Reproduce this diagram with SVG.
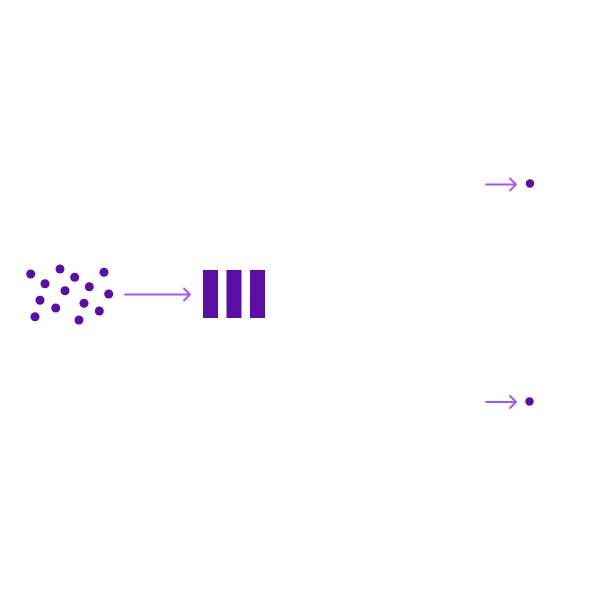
<svg xmlns="http://www.w3.org/2000/svg" width="589" height="589" viewBox="0 0 589 589">
<style>
.dot{fill:#5a0ea3}
.bar{fill:#5a0ea3}
.arr{fill:none;stroke:#a855f7;stroke-width:1.8;stroke-linecap:round;stroke-linejoin:round}
</style>
<rect width="589" height="589" fill="#ffffff"/>
<g id="particles">
<circle class="dot" cx="30.7" cy="274" r="4.5"/>
<circle class="dot" cx="60" cy="269" r="4.5"/>
<circle class="dot" cx="74.7" cy="277.3" r="4.5"/>
<circle class="dot" cx="104" cy="272.3" r="4.5"/>
<circle class="dot" cx="45" cy="283.7" r="4.5"/>
<circle class="dot" cx="65" cy="290.7" r="4.5"/>
<circle class="dot" cx="89.3" cy="286.7" r="4.5"/>
<circle class="dot" cx="108.7" cy="294" r="4.5"/>
<circle class="dot" cx="40" cy="300.3" r="4.5"/>
<circle class="dot" cx="55.7" cy="308" r="4.5"/>
<circle class="dot" cx="84" cy="303.3" r="4.5"/>
<circle class="dot" cx="99.3" cy="311" r="4.5"/>
<circle class="dot" cx="35" cy="316.7" r="4.5"/>
<circle class="dot" cx="79" cy="320" r="4.5"/>
</g>
<g id="bars">
<rect class="bar" x="203" y="270" width="15" height="48"/>
<rect class="bar" x="226.5" y="270" width="15" height="48"/>
<rect class="bar" x="250" y="270" width="15" height="48"/>
</g>
<g id="out-top">
<circle class="dot" cx="530" cy="183.5" r="4.2"/>
</g>
<g id="out-bottom">
<circle class="dot" cx="529.5" cy="401.5" r="4.2"/>
</g>
<g id="connectors">
<path class="arr" d="M125 294.5 H190 M184 288.5 L190 294.5 L184 300.5"/>
<path class="arr" d="M486 184.5 H516 M510 178.5 L516 184.5 L510 190.5"/>
<path class="arr" d="M486 402 H516 M510 396 L516 402 L510 408"/>
</g>
</svg>
